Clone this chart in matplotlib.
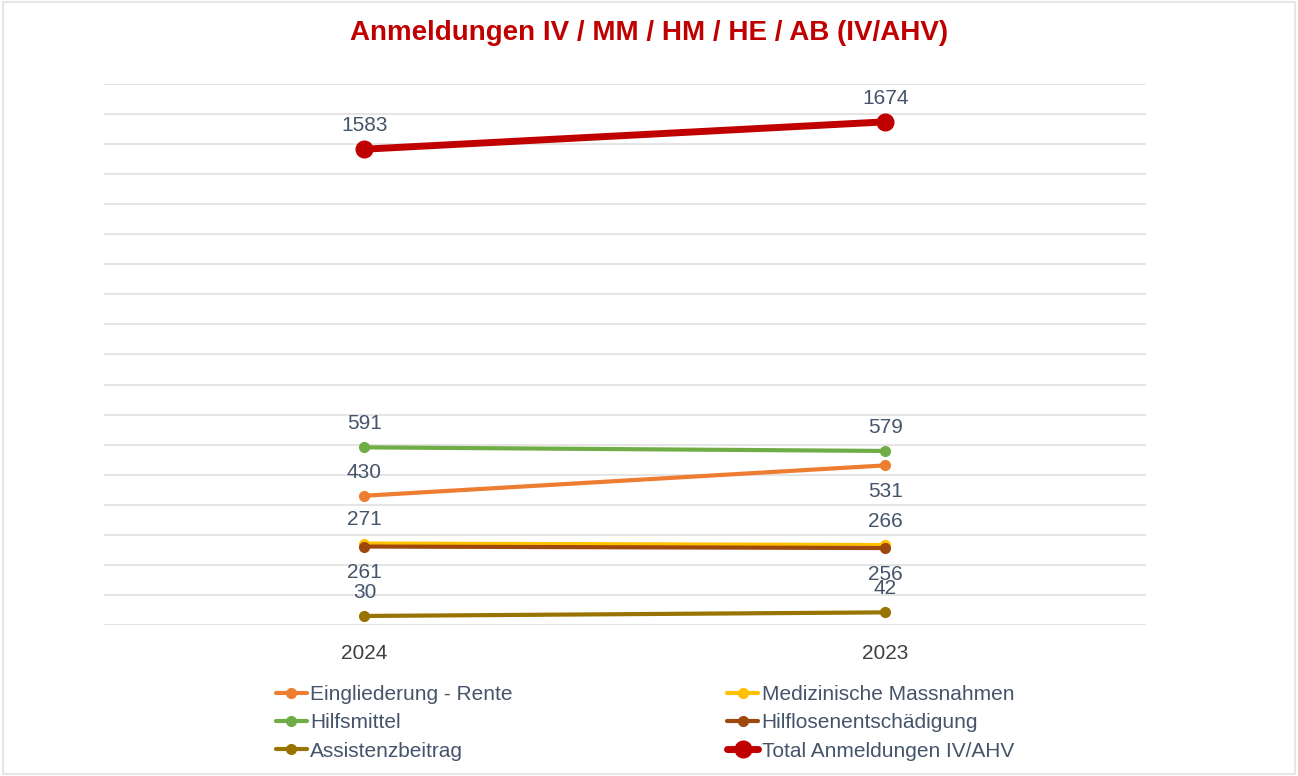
import matplotlib.pyplot as plt
from matplotlib.patches import Rectangle

plt.rcParams['font.family'] = ['Liberation Sans', 'DejaVu Sans']

years = ["2024", "2023"]
eingliederung = [430, 531]
medizinisch = [271, 266]
hilfsmittel = [591, 579]
hilflosen = [261, 256]
assistenz = [30, 42]
total = [1583, 1674]

# name, values, colour, label position (per point), thick?
series = [
    ("Eingliederung - Rente", eingliederung, "#ED7D31", ["above", "below"], False),
    ("Medizinische Massnahmen", medizinisch, "#FFC000", ["above", "above"], False),
    ("Hilfsmittel", hilfsmittel, "#70AD47", ["above", "above"], False),
    ("Hilflosenentschädigung", hilflosen, "#9E480E", ["below", "below"], False),
    ("Assistenzbeitrag", assistenz, "#997300", ["above", "above"], False),
    ("Total Anmeldungen IV/AHV", total, "#C00000", ["above", "above"], True),
]

fig = plt.figure(figsize=(12.98, 7.76), dpi=100)
ax = fig.add_axes([0.0801, 0.1946, 0.8028, 0.6972])

x = list(range(len(years)))
text_col = "#44546A"
for name, vals, col, pos, thick in series:
    ax.plot(x, vals, color=col, lw=5 if thick else 3, marker="o",
            ms=12 if thick else 7, label=name, zorder=3, solid_capstyle="round")
    for xi, v, p in zip(x, vals, pos):
        off = 17 if p == "above" else -19
        ax.annotate(str(v), (xi, v), xytext=(0, off), textcoords="offset points",
                    ha="center", va="center", fontsize=15, color=text_col)

ax.set_xlim(-0.5, 1.5)
ax.set_ylim(0, 1800)
ax.set_yticks(range(0, 1801, 100))
ax.set_yticklabels([])
ax.tick_params(axis="y", length=0)
ax.tick_params(axis="x", length=0, pad=14, labelsize=15, labelcolor="#404040")
ax.set_xticks(x)
ax.set_xticklabels(years)
ax.grid(axis="y", color="#E0E0E0", lw=1.2)
ax.set_axisbelow(True)
for s in ax.spines.values():
    s.set_visible(False)

fig.text(0.5, 0.958, "Anmeldungen IV / MM / HM / HE / AB (IV/AHV)", ha="center",
         va="center", fontsize=20, fontweight="bold", color="#C00000")

# legend is filled row by row in the reference: reorder for column-wise fill
handles, labels = ax.get_legend_handles_labels()
order = [0, 2, 4, 1, 3, 5]
leg = fig.legend([handles[i] for i in order], [labels[i] for i in order], ncol=2,
                 loc="upper left", bbox_to_anchor=(0.206, 0.128),
                 frameon=False, fontsize=15, handlelength=1.5, handletextpad=0.15,
                 columnspacing=10.3, labelspacing=0.45, labelcolor=text_col,
                 borderaxespad=0)

fig.patches.append(Rectangle((0.002, 0.002), 0.996, 0.996, transform=fig.transFigure,
                             fill=False, edgecolor="#E6E6E6", lw=1.5))

fig.savefig("out.png", dpi=100)
